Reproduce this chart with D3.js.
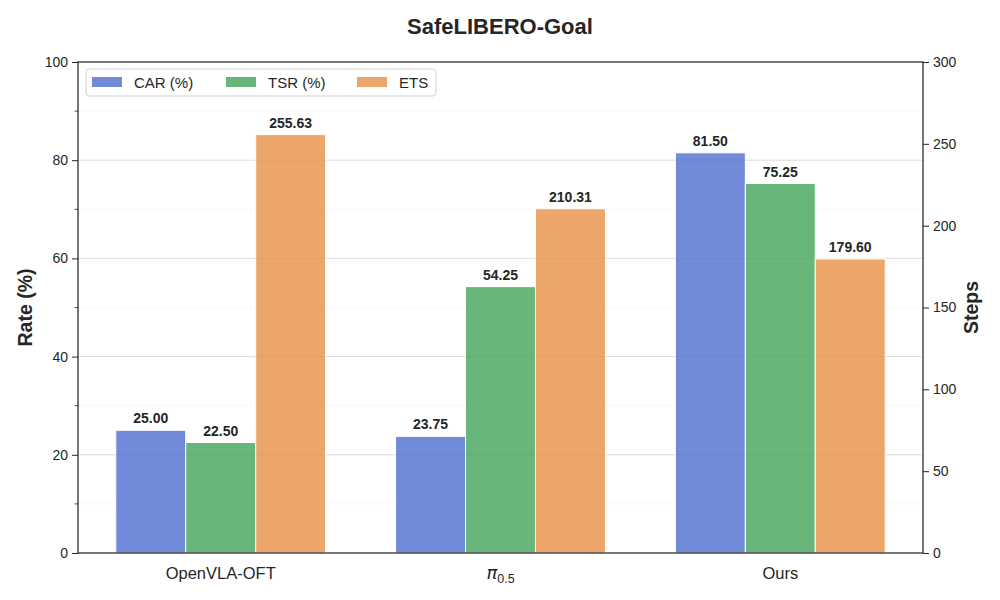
<!DOCTYPE html>
<html><head><meta charset="utf-8">
<script src="https://cdn.jsdelivr.net/npm/d3@7"></script>
<style>body{margin:0;background:#fff}svg{font-family:"Liberation Sans",Arial,sans-serif}</style>
</head><body><svg id="c" width="1000" height="600"></svg>
<script>
const categories = ["OpenVLA-OFT", "π0.5", "Ours"];
const seriesNames = ["CAR (%)", "TSR (%)", "ETS"];
const carValues = [25.00, 23.75, 81.50];
const tsrValues = [22.50, 54.25, 75.25];
const etsValues = [255.63, 210.31, 179.60];
const leftTicks = [0, 20, 40, 60, 80, 100];
const leftMinor = [10, 30, 50, 70, 90];
const rightTicks = [0, 50, 100, 150, 200, 250, 300];
const colors = ["#4f6ecf", "#42a457", "#e79044"];

const svg = d3.select("#c");
const L = 78, R = 923, T = 62, B = 553;
const x = d3.scaleLinear().domain([-0.51, 2.51]).range([L, R]);
const yL = d3.scaleLinear().domain([0, 100]).range([B, T]);
const yR = d3.scaleLinear().domain([0, 300]).range([B, T]);
const txt = "#262626";

// grid
svg.append("g").selectAll("line").data(leftMinor).join("line")
  .attr("x1", L).attr("x2", R).attr("y1", d => yL(d)).attr("y2", d => yL(d))
  .attr("stroke", "#ececec").attr("stroke-width", 0.8).attr("stroke-dasharray", "2,2");
svg.append("g").selectAll("line").data(leftTicks.filter(d => d > 0 && d < 100)).join("line")
  .attr("x1", L).attr("x2", R).attr("y1", d => yL(d)).attr("y2", d => yL(d))
  .attr("stroke", "#dddddd").attr("stroke-width", 1);

// bars
const series = [
  {vals: carValues, scale: yL},
  {vals: tsrValues, scale: yL},
  {vals: etsValues, scale: yR}
];
const bw = 0.25;
series.forEach((s, si) => {
  const g = svg.append("g");
  const data = s.vals.map((v, i) => ({v, i}));
  g.selectAll("rect").data(data).join("rect")
    .attr("x", d => x(d.i + (si - 1) * bw - bw / 2))
    .attr("width", x(bw) - x(0))
    .attr("y", d => s.scale(d.v))
    .attr("height", d => B - s.scale(d.v))
    .attr("fill", colors[si]).attr("fill-opacity", 0.8)
    .attr("stroke", "#fff").attr("stroke-width", 1);
  g.selectAll("text").data(data).join("text")
    .attr("x", d => x(d.i + (si - 1) * bw))
    .attr("y", d => s.scale(d.v) - 7)
    .attr("text-anchor", "middle")
    .attr("font-size", 14).attr("font-weight", "bold").attr("fill", txt)
    .text(d => d.v.toFixed(2));
});

// frame
svg.append("rect").attr("x", L).attr("y", T).attr("width", R - L).attr("height", B - T)
  .attr("fill", "none").attr("stroke", "#262626").attr("stroke-width", 1.25);

// left axis
const gl = svg.append("g").attr("transform", `translate(${L},0)`)
  .call(d3.axisLeft(yL).tickValues(leftTicks).tickSize(6).tickPadding(4).tickFormat(d3.format("d")));
gl.select(".domain").remove();
gl.selectAll("line").attr("stroke", "#262626");
gl.selectAll("text").attr("font-size", 14).attr("fill", txt).attr("font-family", "Liberation Sans, Arial, sans-serif");
svg.append("g").selectAll("line").data(leftMinor).join("line")
  .attr("x1", L - 3.5).attr("x2", L).attr("y1", d => yL(d)).attr("y2", d => yL(d))
  .attr("stroke", "#262626").attr("stroke-width", 0.8);

// right axis
const gr = svg.append("g").attr("transform", `translate(${R},0)`)
  .call(d3.axisRight(yR).tickValues(rightTicks).tickSize(6).tickPadding(4).tickFormat(d3.format("d")));
gr.select(".domain").remove();
gr.selectAll("line").attr("stroke", "#262626");
gr.selectAll("text").attr("font-size", 14).attr("fill", txt).attr("font-family", "Liberation Sans, Arial, sans-serif");

// x labels
const xl = svg.append("g");
categories.forEach((c, i) => {
  const t = xl.append("text").attr("x", x(i)).attr("y", 579).attr("text-anchor", "middle")
    .attr("font-size", 16.5).attr("fill", txt);
  if (c === "π0.5") {
    t.append("tspan").attr("font-style", "italic").attr("font-size", 18).attr("font-family", "DejaVu Sans, sans-serif").text("π");
    t.append("tspan").attr("font-size", 12.5).attr("dy", 4).text("0.5");
  } else t.text(c);
});

// axis titles
svg.append("text").attr("transform", `translate(32,${(T + B) / 2}) rotate(-90)`)
  .attr("text-anchor", "middle").attr("font-size", 19.5).attr("font-weight", "bold").attr("fill", txt).text("Rate (%)");
svg.append("text").attr("transform", `translate(978,${(T + B) / 2}) rotate(-90)`)
  .attr("text-anchor", "middle").attr("font-size", 19.5).attr("font-weight", "bold").attr("fill", txt).text("Steps");
svg.append("text").attr("x", 500).attr("y", 34).attr("text-anchor", "middle")
  .attr("font-size", 22).attr("font-weight", "bold").attr("fill", txt).text("SafeLIBERO-Goal");

// legend
const lg = svg.append("g");
lg.append("rect").attr("x", 86).attr("y", 69).attr("width", 350).attr("height", 27).attr("rx", 3)
  .attr("fill", "#fff").attr("fill-opacity", 0.8).attr("stroke", "#d0d0d0");
const lx = [92, 226, 357];
seriesNames.forEach((n, i) => {
  lg.append("rect").attr("x", lx[i]).attr("y", 77).attr("width", 30).attr("height", 10)
    .attr("fill", colors[i]).attr("fill-opacity", 0.8);
  lg.append("text").attr("x", lx[i] + 42).attr("y", 88).attr("font-size", 15).attr("fill", txt).text(n);
});
</script></body></html>
